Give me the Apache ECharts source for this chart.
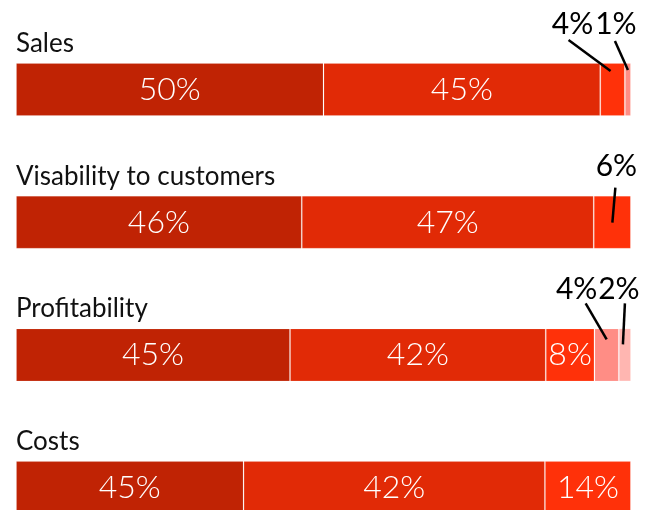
<!DOCTYPE html>
<html>
<head>
<meta charset="utf-8">
<style>
  html, body { margin: 0; padding: 0; background: #ffffff; }
  #chart { width: 656px; height: 510px; }
</style>
<script src="https://cdn.jsdelivr.net/npm/echarts@6/dist/echarts.min.js"></script>
</head>
<body>
<div id="chart"></div>
<script>
// ---- data ----
const categories = ['Sales', 'Visability to customers', 'Profitability', 'Costs'];
// segment shares (bar widths) per row
const seg1 = [50, 46, 45, 37];
const seg2 = [45, 47, 42, 49];
const seg3 = [4, 6, 8, 14];
const seg4 = [1, 0, 4, 0];
const seg5 = [0, 0, 2, 0];
// printed labels per segment
const lab1 = ['50%', '46%', '45%', '45%'];
const lab2 = ['45%', '47%', '42%', '42%'];
const lab3 = ['4%', '6%', '8%', '14%'];
const lab4 = ['1%', '', '4%', ''];
const lab5 = ['', '', '2%', ''];
// which labels sit above the bar with a leader line: [row, segmentIndex]
const outsideLabels = [[0, 2], [0, 3], [1, 2], [2, 3], [2, 4]];

// ---- styling ----
const colors = ['#c02304', '#e12a06', '#ff3109', '#ff8d85', '#ffb6b1'];
const BAR = 53;
// label placement relative to segment centre / bar top: [textDx, textDy, lineStartDx, lineStartDy (from text), lineEndDx, lineEndDy]
const leaderStyle = {
  '0-2': [-40, -39, -4, 16, -2, 8],
  '0-3': [-12, -39, -1, 17, 0, 7],
  '1-2': [4, -29, -1, 21, 0, 27],
  '2-3': [-30, -39, 9, 14, 0, 11],
  '2-4': [-6, -39, 6, 14, -2, 16]
};

const segs = [seg1, seg2, seg3, seg4, seg5];
const labs = [lab1, lab2, lab3, lab4, lab5];
const totals = categories.map((_, r) => segs.reduce((s, a) => s + a[r], 0));
const norm = segs.map(a => a.map((v, r) => v / totals[r] * 100));
const isOutside = (r, s) => outsideLabels.some(o => o[0] === r && o[1] === s);

const barSeries = norm.map((arr, s) => ({
  type: 'bar',
  stack: 'total',
  barWidth: BAR,
  itemStyle: { color: colors[s], borderColor: 'rgba(255,255,255,0.14)', borderWidth: 1 },
  emphasis: { disabled: true },
  data: arr.map((v, r) => ({
    value: v,
    label: {
      show: v > 0 && !isOutside(r, s) && labs[s][r] !== '',
      position: 'inside',
      formatter: labs[s][r],
      color: '#ffffff',
      fontFamily: 'Lato',
      fontWeight: 300,
      fontSize: 32
    }
  }))
}));

const annData = outsideLabels.map(([r, s]) => {
  let start = 0;
  for (let i = 0; i < s; i++) start += norm[i][r];
  return [r, start, start + norm[s][r], labs[s][r], r + '-' + s];
});

const annSeries = {
  type: 'custom',
  silent: true,
  encode: { x: [1, 2], y: 0 },
  data: annData,
  z: 10,
  renderItem: function (params, api) {
    const d = annData[params.dataIndex];
    const p0 = api.coord([d[1], d[0]]);
    const p1 = api.coord([d[2], d[0]]);
    const cx = (p0[0] + p1[0]) / 2;
    const top = p0[1] - BAR / 2;
    const st = leaderStyle[d[4]];
    const tx = cx + st[0], ty = top + st[1];
    return {
      type: 'group',
      children: [
        {
          type: 'line',
          shape: { x1: tx + st[2], y1: ty + st[3], x2: cx + st[4], y2: top + st[5] },
          style: { stroke: '#000000', lineWidth: 2.5 }
        },
        {
          type: 'text',
          x: tx, y: ty,
          style: {
            text: d[3], fill: '#000000', fontFamily: 'Lato', fontWeight: 400,
            fontSize: 30, align: 'center', verticalAlign: 'middle'
          }
        }
      ]
    };
  }
};

const chart = echarts.init(document.getElementById('chart'), null, { renderer: 'canvas' });
chart.setOption({
  animation: false,
  backgroundColor: '#ffffff',
  grid: { left: 16, right: 25, top: 89.5, bottom: 22.4 },
  xAxis: { type: 'value', min: 0, max: 100, show: false },
  yAxis: {
    type: 'category',
    data: categories,
    inverse: true,
    boundaryGap: false,
    axisLine: { show: false },
    axisTick: { show: false },
    splitLine: { show: false },
    axisLabel: {
      inside: true,
      margin: 0,
      align: 'left',
      verticalAlign: 'bottom',
      lineHeight: 28,
      padding: [0, 0, 32, 0],
      color: '#111111',
      fontFamily: 'Lato',
      fontSize: 26
    }
  },
  series: barSeries.concat([annSeries])
});
</script>
</body>
</html>
